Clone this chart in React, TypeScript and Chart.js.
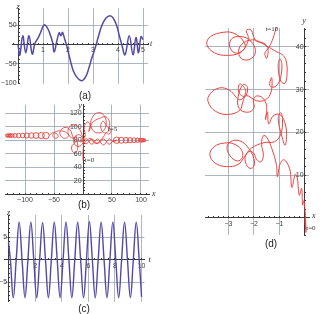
import React, { useEffect, useRef } from 'react';
import { Chart, registerables } from 'chart.js';

Chart.register(...registerables);

type Pt = [number, number];

// ---------------- (a) z(t) ----------------
const aT = [0, 0.07, 0.19, 0.31, 0.44, 0.57, 0.68, 0.8, 0.9, 1.04, 1.15, 1.28, 1.38, 1.45, 1.55, 1.65, 1.72, 1.78, 1.86, 1.95, 2.08, 2.21, 2.37, 2.55, 2.72, 2.85, 2.95, 3.08, 3.21, 3.35, 3.52, 3.68, 3.81, 3.95, 4.05, 4.15, 4.28, 4.45, 4.6, 4.72, 4.82, 4.92, 5.0];
const aZ = [0, -28, 22, -22, 22, -25, 3, 16, 30, 50, 45, 27, 6, -20, 8, 30, 22, 31, 15, -4, -38, -68, -86, -94, -82, -58, -36, -11, 19, 48, 68, 74, 68, 48, 23, 0, -27, 22, -27, 18, -22, 20, 12];
const aLabelsX = [1, 2, 3, 4, 5];
const aLabelsY = [-100, -50, 50];
const aGridX = [1, 2, 3, 4, 5];
const aGridY = [-50, 50];

// ---------------- (b) (x(t), y(t)) ----------------
const bPathA: Pt[] = [[0, 50], [0, 63], [1, 75], [-1, 83], [-6, 88], [-12, 87], [-16, 82], [-15, 75], [-10, 71], [-4, 72], [0, 77], [-1, 86], [-5, 95], [-10, 101], [-17, 103], [-23, 100], [-26, 93], [-23, 86], [-17, 83], [-12, 86], [-10, 79], [-9, 70], [-11, 63], [-15, 61], [-19, 65], [-19, 72], [-14, 76], [-18, 86], [-22, 95], [-29, 99], [-36, 97], [-40, 91], [-37, 85], [-30, 83], [-25, 87], [-30, 92], [-40, 94], [-48, 92], [-52, 87], [-48, 83], [-43, 85], [-46, 90], [-53, 91], [-58, 87]];
const bPathB: Pt[] = [[0, 80], [4, 88], [2, 96], [4, 104], [9, 107], [13, 101], [10, 93], [12, 101], [15, 112], [21, 119], [29, 121], [36, 117], [40, 107], [37, 96], [29, 91], [19, 93], [14, 102], [20, 109], [30, 113], [38, 115], [44, 111], [46, 102], [43, 93], [37, 91], [32, 95], [31, 104], [35, 108], [42, 100], [47, 97], [48, 92], [44, 89], [40, 91], [36, 86], [30, 80], [22, 75], [12, 83], [4, 78], [0, 81]];
const bLensA: Pt[] = [[-4, 81], [6, 75], [15, 82], [25, 75], [35, 82], [45, 74], [52, 79], [58, 80]];
const bLensB: Pt[] = [[-4, 77], [6, 82], [15, 74], [25, 82], [35, 73], [45, 82], [52, 78], [58, 80]];
const bLeftLoopsX = [-131, -129, -127, -125, -122, -117, -111, -104, -97, -89, -81, -72, -64];
const bLeftLoopsY = [87, 87, 87, 87, 87, 87, 87, 87, 87, 87, 87, 87, 87];
const bLeftLoopsR = [1.6, 1.6, 1.7, 1.8, 1.9, 2, 2.2, 2.3, 2.5, 2.7, 2.9, 3.1, 3.3];
const bRightLoopsX = [58, 66, 74, 81, 88, 94, 99, 102, 104, 106];
const bRightLoopsY = [80, 80, 80, 80, 80, 80, 80, 80, 80, 80];
const bRightLoopsR = [3.2, 3, 2.8, 2.6, 2.4, 2.2, 2, 1.8, 1.6, 1.5];
const bLabelsX = [-100, -50, 50, 100];
const bLabelsY = [20, 40, 60, 80, 100, 120];
const bNotes = [{ text: 't=0', x: 3, y: 50 }, { text: 't=5', x: 43, y: 96 }];

// ---------------- (c) z(t) ----------------
const cT = [0, 0.14, 0.36, 0.58, 0.8, 1.02, 1.24, 1.46, 1.68, 1.9, 2.12, 2.34, 2.56, 2.78, 3.0, 3.22, 3.44, 3.66, 3.88, 4.1, 4.32, 4.54, 4.76, 4.98, 5.2, 5.42, 5.64, 5.86, 6.08, 6.3, 6.52, 6.74, 6.96, 7.18, 7.4, 7.62, 7.84, 8.06, 8.28, 8.5, 8.72, 8.94, 9.16, 9.38, 9.6, 9.82, 10.0];
const cZ = [4, 0, -8.5, 0, 8.4, 0, -8.5, 0, 8.4, 0, -8.5, 0, 8.3, 0, -8.5, 0, 8.4, 0, -8.5, 0, 8.4, 0, -8.5, 0, 8.4, 0, -8.5, 0, 8.5, 0, -8.5, 0, 8.4, 0, -8.5, 0, 8.4, 0, -8.5, 0, 8.4, 0, -8.5, 0, 8.4, 0, -8.3];
const cLabelsX = [2, 4, 6, 8, 10];
const cLabelsY = [-5, 5];

// ---------------- (d) (x(t), y(t)) ----------------
const dBumps: Pt[] = [[0, 0], [0.04, -3.4], [0.02, 0.5], [-0.04, 4.0], [-0.09, 3.0], [-0.13, 6.9], [-0.22, 5.3], [-0.3, 9.3], [-0.38, 10.2], [-0.51, 7.1], [-0.6, 11.5], [-0.82, 13.6], [-0.98, 12.5], [-1.08, 9.6]];
const dLower: Pt[] = [[-1.12, 12.5], [-1.3, 16.2], [-1.5, 18.9], [-1.63, 19.2], [-1.7, 17.2], [-1.63, 14.6], [-1.73, 13.1], [-1.9, 13.7], [-2.03, 15.3], [-2.25, 15.3], [-2.35, 13.6], [-2.2, 11.7], [-2.02, 11.9], [-2.0, 13.8], [-2.25, 16.6], [-2.55, 18.0], [-2.85, 18.0], [-3.05, 16.8], [-2.95, 14.6], [-2.65, 13.3], [-2.45, 14.2], [-2.5, 16.0], [-2.8, 17.3], [-3.15, 17.5], [-3.55, 16.7], [-3.73, 14.8], [-3.52, 12.8], [-3.08, 12.0], [-2.62, 12.5], [-2.38, 14.2], [-2.1, 16.3], [-1.6, 17.6], [-1.2, 17.8]];
const dLowerChain: Pt[] = [[-0.95, 19.5], [-0.88, 23.0], [-0.95, 24.6], [-1.05, 23.2], [-0.9, 19.0], [-0.78, 17.0], [-0.72, 19.5], [-0.8, 22.5], [-1.0, 24.2], [-1.25, 23.8], [-1.42, 22.0], [-1.47, 24.8], [-1.55, 23.0], [-1.5, 26.0], [-1.65, 28.0], [-1.9, 28.5]];
const dMiddle: Pt[] = [[-2.02, 27.6], [-2.0, 25.7], [-2.25, 24.7], [-2.58, 25.6], [-2.62, 28.3], [-2.42, 31.2], [-2.25, 30.5], [-2.35, 28.4], [-2.6, 29.4], [-2.55, 31.3], [-2.32, 29.6], [-2.55, 27.6], [-2.95, 29.8], [-3.35, 30.4], [-3.72, 29.0], [-3.8, 27.2], [-3.5, 24.9], [-3.0, 24.2], [-2.55, 25.2], [-2.43, 27.2], [-2.3, 28.6], [-1.9, 27.4], [-1.55, 27.6]];
const dUpperChain: Pt[] = [[-1.33, 29.4], [-1.3, 32.8], [-1.38, 31.0], [-1.2, 30.6], [-1.0, 32.0], [-0.9, 35.5], [-0.98, 37.2], [-1.05, 35.5], [-0.95, 32.0], [-0.78, 31.5], [-0.7, 34.0], [-0.75, 37.0], [-0.9, 38.2], [-1.1, 38.8]];
const dTop: Pt[] = [[-1.5, 40.2], [-1.9, 41.5], [-2.1, 41.6], [-2.4, 41.0], [-2.6, 39.2], [-2.5, 37.3], [-2.2, 37.0], [-1.95, 38.5], [-2.05, 40.8], [-2.4, 42.3], [-2.85, 42.0], [-2.95, 40.0], [-2.7, 38.5], [-2.35, 39.8], [-2.45, 41.6], [-2.8, 43.2], [-3.2, 43.4], [-3.7, 42.4], [-3.85, 40.6], [-3.55, 38.6], [-3.05, 38.0], [-2.55, 38.6], [-2.3, 40.3], [-2.22, 42.2], [-2.3, 43.8], [-2.12, 44.0], [-2.02, 42.5], [-1.9, 41.3], [-1.6, 40.8], [-1.45, 39.5], [-1.5, 37.3], [-1.57, 38.5], [-1.4, 40.0], [-1.25, 42.0], [-1.12, 44.6]];
const dLabelsX = [-3, -2, -1];
const dLabelsY = [10, 20, 30, 40];
const dNotes = [{ text: 't=10', x: -1.55, y: 44.2 }, { text: 't=0', x: 0.05, y: -2.3 }];

// ---------------- styles ----------------
const RED = '#e8433f';
const PURPLE = '#5548a8';
const GRID = 'rgba(150,164,176,0.8)';
const AXIS = '#3a3a3a';
const LABEL = '#404040';
const SANS = "'Liberation Sans', Arial, Helvetica, sans-serif";
const SERIF = "'Liberation Serif', 'Times New Roman', serif";

function fmt(v: number) {
  return v < 0 ? '\u2212' + String(-v) : String(v);
}

function tickList(min: number, max: number, step: number, majors: number[]) {
  const out: number[] = [];
  const s = Math.ceil(min / step - 1e-9);
  const e = Math.floor(max / step + 1e-9);
  for (let i = s; i <= e; i++) out.push(Math.round(i * step * 1e6) / 1e6);
  majors.forEach((m) => { if (!out.includes(m)) out.push(m); });
  return out.sort((a, b) => a - b);
}

interface AxisSpec { min: number; max: number; cross: number; labels: number[]; grid: number[]; minor: number; }

function scaleOpts(axis: 'x' | 'y', s: AxisSpec): any {
  const ticks = tickList(s.min, s.max, s.minor, s.labels);
  return {
    type: 'linear',
    min: s.min,
    max: s.max,
    position: axis === 'x' ? { y: s.cross } : { x: s.cross },
    afterFit: (sc: any) => { if (axis === 'x') sc.height = 0; else sc.width = 0; },
    afterBuildTicks: (sc: any) => { sc.ticks = ticks.map((v) => ({ value: v })); },
    grid: {
      color: (c: any) => (c.tick && s.grid.includes(c.tick.value) ? GRID : 'rgba(0,0,0,0)'),
      tickColor: AXIS,
      tickLength: -2,
      lineWidth: 1,
      drawOnChartArea: true,
      drawTicks: true,
    },
    border: { display: true, color: AXIS, width: 1 },
    ticks: {
      autoSkip: false,
      maxRotation: 0,
      minRotation: 0,
      padding: 4,
      color: LABEL,
      font: { size: 7, family: SANS },
      callback: (v: number) => (s.labels.includes(v) ? (axis === 'y' ? fmt(v) + '\u2009' : fmt(v)) : ''),
    },
  };
}

interface Overlay { xName: string; yName: string; xCross: number; yCross: number; xDx: number; xDy: number; yDx: number; yDy: number; notes: { text: string; x: number; y: number }[]; }

function overlayPlugin(o: Overlay) {
  return {
    id: 'overlay',
    afterDraw(chart: any) {
      const { ctx, chartArea, scales } = chart;
      const xs = scales.x;
      const ys = scales.y;
      ctx.save();
      ctx.fillStyle = '#333';
      ctx.textBaseline = 'middle';
      ctx.font = `italic 8px ${SERIF}`;
      ctx.textAlign = 'left';
      ctx.fillText(o.xName, chartArea.right + o.xDx, ys.getPixelForValue(o.yCross) + o.xDy);
      ctx.textAlign = 'center';
      ctx.fillText(o.yName, xs.getPixelForValue(o.xCross) + o.yDx, chartArea.top + o.yDy);
      ctx.font = `7px ${SERIF}`;
      ctx.textAlign = 'left';
      o.notes.forEach((n) => {
        ctx.fillText(n.text, xs.getPixelForValue(n.x), ys.getPixelForValue(n.y));
      });
      ctx.restore();
    },
  };
}

function lineDs(pts: { x: number; y: number }[], color: string, width: number, tension = 0.4): any {
  return {
    data: pts,
    showLine: true,
    borderColor: color,
    borderWidth: width,
    pointRadius: 0,
    tension,
    fill: false,
    clip: false,
  };
}

function circleDs(xs: number[], ys: number[], rs: number[]): any {
  return {
    data: xs.map((x, i) => ({ x, y: ys[i] })),
    showLine: false,
    pointStyle: 'circle',
    pointRadius: rs,
    pointBackgroundColor: 'rgba(0,0,0,0)',
    pointBorderColor: RED,
    pointBorderWidth: 0.9,
  };
}

const toXY = (pts: Pt[]) => pts.map(([x, y]) => ({ x, y }));

function buildConfig(datasets: any[], xs: AxisSpec, ys: AxisSpec, pad: { left: number; right: number; top: number; bottom: number }, ov: Overlay): any {
  return {
    type: 'scatter',
    data: { datasets },
    options: {
      responsive: false,
      maintainAspectRatio: false,
      animation: false,
      events: [],
      layout: { padding: pad },
      plugins: { legend: { display: false }, tooltip: { enabled: false } },
      scales: { x: scaleOpts('x', xs), y: scaleOpts('y', ys) },
    },
    plugins: [overlayPlugin(ov)],
  };
}

function Panel(props: { left: number; top: number; width: number; height: number; make: () => any }) {
  const ref = useRef<HTMLCanvasElement>(null);
  useEffect(() => {
    const chart = new Chart(ref.current as HTMLCanvasElement, props.make());
    return () => chart.destroy();
  }, []);
  return (
    <canvas
      ref={ref}
      width={props.width}
      height={props.height}
      style={{ position: 'absolute', left: props.left, top: props.top, width: props.width, height: props.height, display: 'block' }}
    />
  );
}

const makeA = () =>
  buildConfig(
    [lineDs(aT.map((t, i) => ({ x: t, y: aZ[i] })), PURPLE, 1.5)],
    { min: -0.24, max: 5.2, cross: 0, labels: aLabelsX, grid: aGridX, minor: 0.2 },
    { min: -102, max: 93.5, cross: 0, labels: aLabelsY, grid: aGridY, minor: 10 },
    { left: 12, right: 12, top: 4, bottom: 2 },
    { xName: 't', yName: 'z', xCross: 0, yCross: 0, xDx: 2, xDy: 0, yDx: 0, yDy: -1, notes: [] }
  );

const makeB = () =>
  buildConfig(
    [
      lineDs(toXY(bPathA), RED, 0.9),
      lineDs(toXY(bPathB), RED, 0.9),
      lineDs(toXY(bLensA), RED, 0.9),
      lineDs(toXY(bLensB), RED, 0.9),
      circleDs(bLeftLoopsX, bLeftLoopsY, bLeftLoopsR),
      circleDs(bRightLoopsX, bRightLoopsY, bRightLoopsR),
    ],
    { min: -134.5, max: 113.8, cross: 0, labels: bLabelsX, grid: bLabelsX, minor: 10 },
    { min: -1, max: 133, cross: 0, labels: bLabelsY, grid: bLabelsY, minor: 5 },
    { left: 5, right: 11, top: 9.6, bottom: 8.3 },
    { xName: 'x', yName: 'y', xCross: 0, yCross: 0, xDx: 3, xDy: 0, yDx: -3, yDy: 1.5, notes: bNotes }
  );

const makeC = () =>
  buildConfig(
    [lineDs(cT.map((t, i) => ({ x: t, y: cZ[i] })), PURPLE, 1.4)],
    { min: -0.3, max: 10.22, cross: 0, labels: cLabelsX, grid: cLabelsX, minor: 0.5 },
    { min: -9.4, max: 10, cross: 0, labels: cLabelsY, grid: cLabelsY, minor: 1 },
    { left: 4.5, right: 15.5, top: 10, bottom: 4 },
    { xName: 't', yName: 'z', xCross: 0, yCross: 0, xDx: 4, xDy: 0, yDx: 0, yDy: -2, notes: [] }
  );

const makeD = () =>
  buildConfig(
    [lineDs(toXY([...dBumps, ...dLower, ...dLowerChain, ...dMiddle, ...dUpperChain, ...dTop]), RED, 1)],
    { min: -3.92, max: 0.16, cross: 0, labels: dLabelsX, grid: dLabelsX, minor: 0.2 },
    { min: -4, max: 44.4, cross: 0, labels: dLabelsY, grid: dLabelsY, minor: 2 },
    { left: 45, right: 11, top: 13, bottom: 10 },
    { xName: 'x', yName: 'y', xCross: 0, yCross: 0, xDx: 3, xDy: -2, yDx: -1, yDy: -7, notes: dNotes }
  );

const captionStyle = (cx: number, cy: number): React.CSSProperties => ({
  position: 'absolute',
  left: cx - 15,
  top: cy - 6,
  width: 30,
  height: 12,
  lineHeight: '12px',
  textAlign: 'center',
  fontFamily: SANS,
  fontSize: 10,
  color: '#222',
});

export default function App() {
  return (
    <div style={{ position: 'fixed', left: 0, top: 0, width: 320, height: 314, background: '#fff', overflow: 'hidden' }}>
      <Panel left={0} top={0} width={160} height={92} make={makeA} />
      <Panel left={0} top={95} width={160} height={108} make={makeB} />
      <Panel left={0} top={205} width={160} height={105} make={makeC} />
      <Panel left={160} top={15} width={160} height={230} make={makeD} />
      <div style={captionStyle(85, 96)}>(a)</div>
      <div style={captionStyle(84, 205)}>(b)</div>
      <div style={captionStyle(84, 309)}>(c)</div>
      <div style={captionStyle(271, 244)}>(d)</div>
    </div>
  );
}
